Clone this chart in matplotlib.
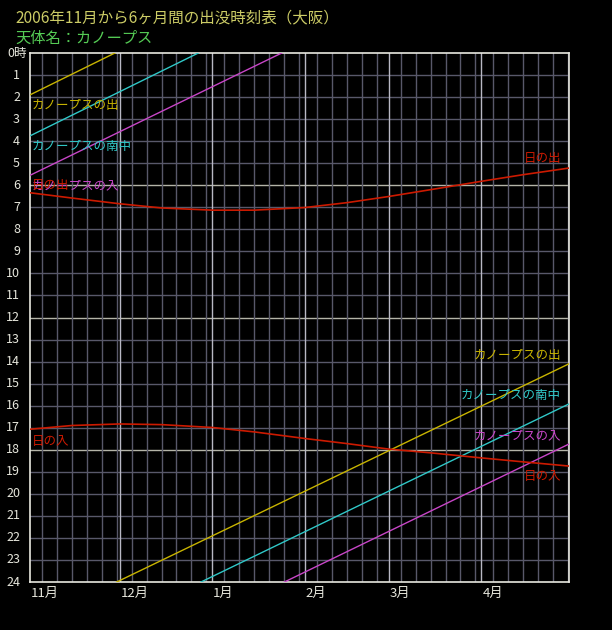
import matplotlib
matplotlib.use("Agg")
import matplotlib.pyplot as plt
from matplotlib.transforms import blended_transform_factory

plt.rcParams['font.family'] = ['Noto Sans CJK JP', 'DejaVu Sans']

# days counted from 2006-11-01
month_names = ['11月', '12月', '1月', '2月', '3月', '4月']
month_start = [0, 30, 61, 92, 120, 151]
month_len = [30, 31, 31, 28, 31, 30]

# Canopus (two straight pieces each, wrapping at 0h/24h)
rise_days1, rise_hours1 = [0, 28.4], [1.90, 0.0]
rise_days2, rise_hours2 = [29.0, 180.3], [24.0, 14.1]
transit_days1, transit_hours1 = [0, 56.3], [3.76, 0.0]
transit_days2, transit_hours2 = [57.2, 180.3], [24.0, 15.92]
set_days1, set_hours1 = [0, 84.2], [5.55, 0.0]
set_days2, set_hours2 = [85.1, 180.3], [24.0, 17.74]

# sun (Osaka)
sun_days = [0, 14, 30, 44, 61, 75, 92, 106, 120, 134, 151, 165, 180.3]
sunrise = [6.34, 6.58, 6.84, 7.03, 7.13, 7.13, 7.01, 6.79, 6.51, 6.20, 5.82, 5.52, 5.22]
sunset = [17.07, 16.90, 16.83, 16.86, 16.99, 17.19, 17.49, 17.72, 17.97, 18.14, 18.37, 18.55, 18.74]

C_RISE = '#c8b400'
C_TRANSIT = '#30c8c8'
C_SET = '#c846c8'
C_SUN = '#cc1a00'
C_TEXT = '#e6e6dc'

fig = plt.figure(figsize=(6.12, 6.30), dpi=100, facecolor='black')
ax = fig.add_axes([30 / 612, 48 / 630, 539 / 612, 529 / 630], facecolor='black')
ax.set_xlim(0, 180.3)
ax.set_ylim(24, 0)
ax.set_xticks([])
ax.set_yticks([])
for s in ax.spines.values():
    s.set_color('#e8e8e0')
    s.set_linewidth(1.2)

# grid
for h in range(1, 24):
    if h % 6 == 0:
        ax.axhline(h, color='#b4b4a8', lw=1.0, zorder=1)
    else:
        ax.axhline(h, color='#58586a', lw=1.0, zorder=1)
for start, n in zip(month_start, month_len):
    for d in range(5, n + 1, 5):
        ax.axvline(start + d - 1, color='#58586a', lw=1.0, zorder=1)
for start in month_start[1:]:
    ax.axvline(start, color='#b8b8c4', lw=1.0, zorder=1)

lw = 1.0
ax.plot(rise_days1, rise_hours1, color=C_RISE, lw=lw, zorder=3)
ax.plot(rise_days2, rise_hours2, color=C_RISE, lw=lw, zorder=3)
ax.plot(transit_days1, transit_hours1, color=C_TRANSIT, lw=lw, zorder=3)
ax.plot(transit_days2, transit_hours2, color=C_TRANSIT, lw=lw, zorder=3)
ax.plot(set_days1, set_hours1, color=C_SET, lw=lw, zorder=3)
ax.plot(set_days2, set_hours2, color=C_SET, lw=lw, zorder=3)
ax.plot(sun_days, sunrise, color=C_SUN, lw=1.2, zorder=3)
ax.plot(sun_days, sunset, color=C_SUN, lw=1.2, zorder=3)

fs = 9
# left labels (日の出 is printed over カノープスの入, as in the original)
ax.text(0.7, 2.40, 'カノープスの出', color=C_RISE, fontsize=fs, va='center', ha='left', zorder=4)
ax.text(0.7, 4.23, 'カノープスの南中', color=C_TRANSIT, fontsize=fs, va='center', ha='left', zorder=4)
ax.text(0.7, 6.03, 'カノープスの入', color=C_SET, fontsize=fs, va='center', ha='left', zorder=4)
ax.text(0.7, 6.03, '日の出', color=C_SUN, fontsize=fs, va='center', ha='left', zorder=5)
ax.text(0.7, 17.62, '日の入', color=C_SUN, fontsize=fs, va='center', ha='left', zorder=4)
# right labels
ax.text(177.6, 4.79, '日の出', color=C_SUN, fontsize=fs, va='center', ha='right', zorder=4)
ax.text(177.6, 13.73, 'カノープスの出', color=C_RISE, fontsize=fs, va='center', ha='right', zorder=4)
ax.text(177.6, 15.55, 'カノープスの南中', color=C_TRANSIT, fontsize=fs, va='center', ha='right', zorder=4)
ax.text(177.6, 17.36, 'カノープスの入', color=C_SET, fontsize=fs, va='center', ha='right', zorder=4)
ax.text(177.6, 19.21, '日の入', color=C_SUN, fontsize=fs, va='center', ha='right', zorder=4)

# hour labels
tr = blended_transform_factory(fig.transFigure, ax.transData)
ax.text(7 / 612, 0, '0時', color=C_TEXT, fontsize=9, ha='left', va='center', transform=tr, clip_on=False)
for h in range(1, 25):
    ax.text(20 / 612, h, str(h), color=C_TEXT, fontsize=9, ha='right', va='center',
            transform=tr, clip_on=False)

# month labels
trx = blended_transform_factory(ax.transData, fig.transFigure)
for name, start in zip(month_names, month_start):
    ax.text(start + 0.3, 1 - 593 / 630, name, color=C_TEXT, fontsize=9.5, ha='left', va='center',
            transform=trx, clip_on=False)

fig.text(15 / 612, 1 - 18 / 630, '2006年11月から6ヶ月間の出没時刻表（大阪）', color='#cccc66',
         fontsize=11.2, ha='left', va='center')
fig.text(15 / 612, 1 - 38 / 630, '天体名：カノープス', color='#55cc55', fontsize=11,
         ha='left', va='center')

fig.savefig('out.png', dpi=100, facecolor='black')
